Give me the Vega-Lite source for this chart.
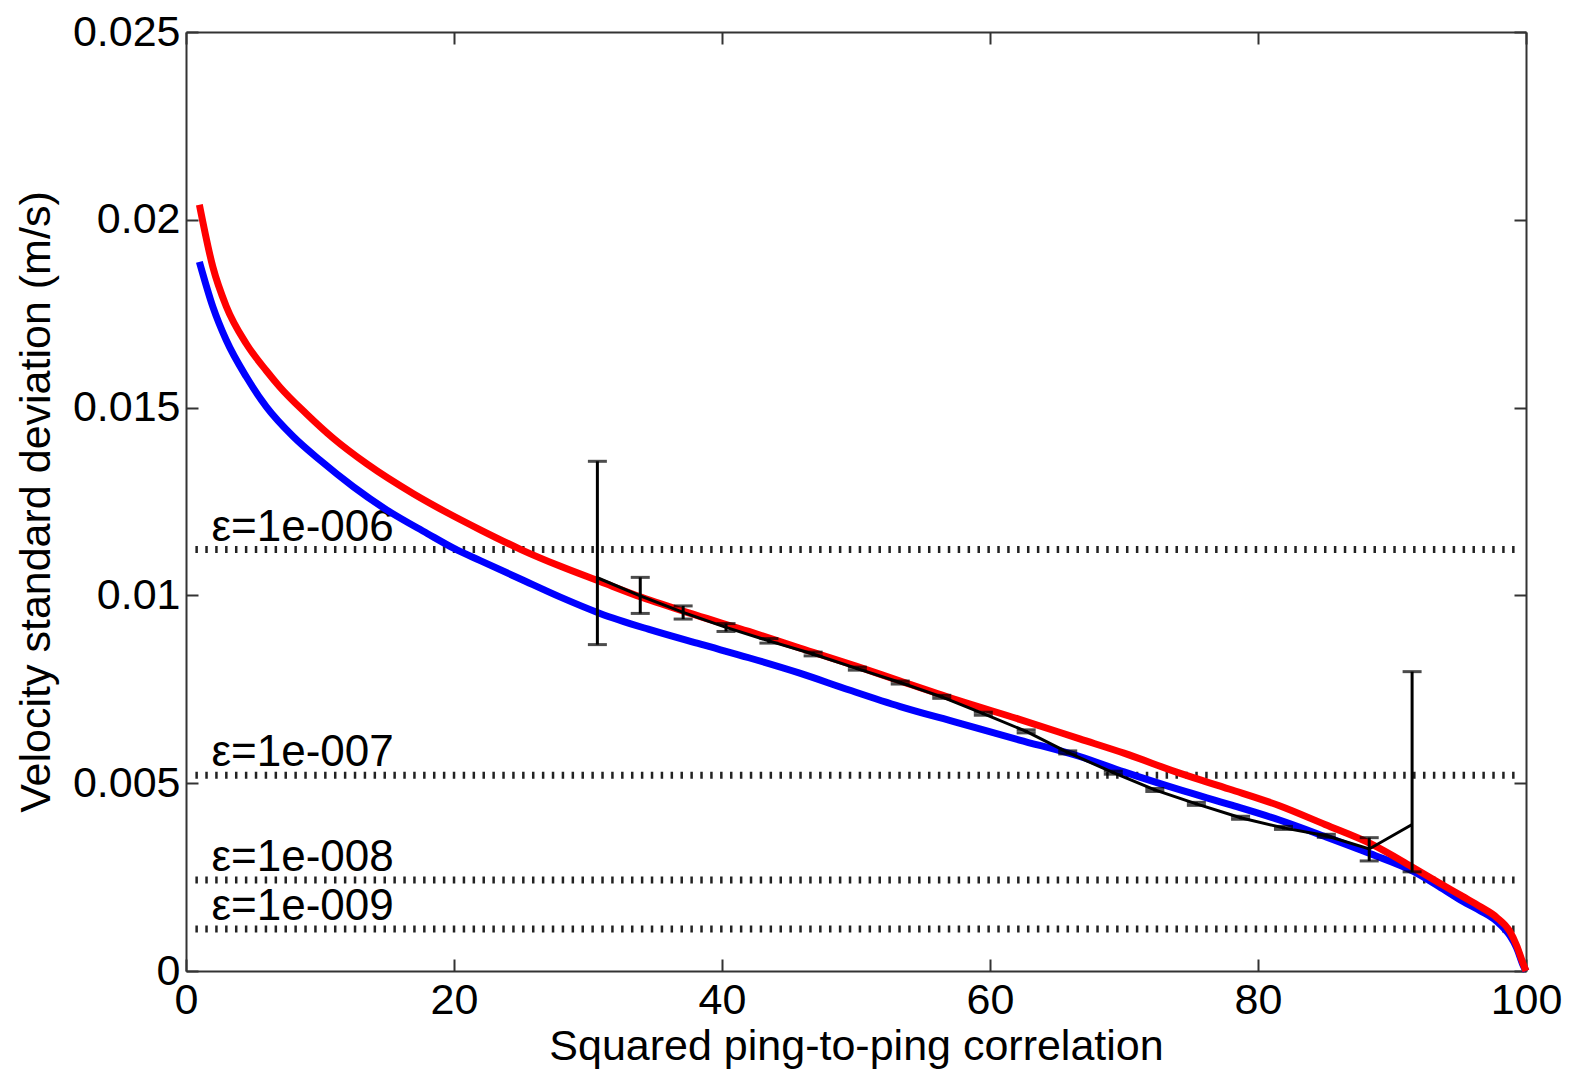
{
  "$schema": "https://vega.github.io/schema/vega-lite/v6.json",
  "autosize": "none",
  "width": 1340,
  "height": 939,
  "padding": {"left": 186, "top": 32, "right": 43, "bottom": 104},
  "background": "white",
  "config": {
    "view": {"stroke": null},
    "axis": {
      "domainColor": "#333", "domainWidth": 2,
      "tickColor": "#333", "tickWidth": 2, "tickSize": -12,
      "labelFont": "Liberation Sans", "labelFontSize": 43, "labelColor": "#000",
      "titleFont": "Liberation Sans", "titleFontSize": 43, "titleFontWeight": "normal", "titleColor": "#000",
      "grid": false, "labelFlush": false, "labelOverlap": false
    }
  },
  "datasets": {
    "curves": [
      {"series": "red", "x": 1.0, "y": 0.0204}, {"series": "red", "x": 2.0, "y": 0.01875}, {"series": "red", "x": 3.0, "y": 0.0177},
      {"series": "red", "x": 4.5, "y": 0.0167}, {"series": "red", "x": 6.0, "y": 0.01598}, {"series": "red", "x": 7.0, "y": 0.01555},
      {"series": "red", "x": 9.0, "y": 0.01483}, {"series": "red", "x": 11.0, "y": 0.01418}, {"series": "red", "x": 13.5, "y": 0.0135},
      {"series": "red", "x": 17.0, "y": 0.0127}, {"series": "red", "x": 19.5, "y": 0.0122}, {"series": "red", "x": 22.0, "y": 0.01174},
      {"series": "red", "x": 25.0, "y": 0.01122}, {"series": "red", "x": 27.9, "y": 0.01078}, {"series": "red", "x": 30.9, "y": 0.01037},
      {"series": "red", "x": 34.0, "y": 0.00995}, {"series": "red", "x": 38.0, "y": 0.00948}, {"series": "red", "x": 42.0, "y": 0.00904},
      {"series": "red", "x": 45.8, "y": 0.0086}, {"series": "red", "x": 50.0, "y": 0.00812}, {"series": "red", "x": 53.3, "y": 0.00772},
      {"series": "red", "x": 57.5, "y": 0.00722}, {"series": "red", "x": 62.2, "y": 0.0067}, {"series": "red", "x": 66.7, "y": 0.00618},
      {"series": "red", "x": 70.0, "y": 0.0058}, {"series": "red", "x": 74.2, "y": 0.00526}, {"series": "red", "x": 77.9, "y": 0.00484},
      {"series": "red", "x": 81.6, "y": 0.0044}, {"series": "red", "x": 85.0, "y": 0.0039}, {"series": "red", "x": 88.4, "y": 0.00339},
      {"series": "red", "x": 91.6, "y": 0.00275}, {"series": "red", "x": 93.5, "y": 0.00235}, {"series": "red", "x": 95.3, "y": 0.00198},
      {"series": "red", "x": 96.6, "y": 0.00171}, {"series": "red", "x": 97.8, "y": 0.00143}, {"series": "red", "x": 98.8, "y": 0.00105},
      {"series": "red", "x": 99.3, "y": 0.00068}, {"series": "red", "x": 99.8, "y": 0.00018}, {"series": "red", "x": 100.0, "y": 0.0},
      {"series": "blue", "x": 1.0, "y": 0.01888}, {"series": "blue", "x": 2.0, "y": 0.01769}, {"series": "blue", "x": 3.0, "y": 0.0168},
      {"series": "blue", "x": 4.5, "y": 0.01582}, {"series": "blue", "x": 6.0, "y": 0.01502}, {"series": "blue", "x": 8.0, "y": 0.01423},
      {"series": "blue", "x": 10.0, "y": 0.0136}, {"series": "blue", "x": 12.5, "y": 0.01289}, {"series": "blue", "x": 15.0, "y": 0.01227},
      {"series": "blue", "x": 18.0, "y": 0.01165}, {"series": "blue", "x": 20.0, "y": 0.01125}, {"series": "blue", "x": 22.0, "y": 0.01092},
      {"series": "blue", "x": 25.0, "y": 0.01043}, {"series": "blue", "x": 27.9, "y": 0.00996}, {"series": "blue", "x": 30.9, "y": 0.00952},
      {"series": "blue", "x": 34.5, "y": 0.0091}, {"series": "blue", "x": 38.4, "y": 0.0087}, {"series": "blue", "x": 42.0, "y": 0.00834},
      {"series": "blue", "x": 45.8, "y": 0.00793}, {"series": "blue", "x": 49.5, "y": 0.00748}, {"series": "blue", "x": 53.3, "y": 0.00704},
      {"series": "blue", "x": 57.5, "y": 0.00662}, {"series": "blue", "x": 62.2, "y": 0.00615}, {"series": "blue", "x": 66.7, "y": 0.00571},
      {"series": "blue", "x": 70.0, "y": 0.0053}, {"series": "blue", "x": 74.2, "y": 0.00482}, {"series": "blue", "x": 77.9, "y": 0.00443},
      {"series": "blue", "x": 81.6, "y": 0.00402}, {"series": "blue", "x": 85.0, "y": 0.00358}, {"series": "blue", "x": 88.4, "y": 0.00312},
      {"series": "blue", "x": 91.6, "y": 0.00265}, {"series": "blue", "x": 93.5, "y": 0.00225}, {"series": "blue", "x": 95.3, "y": 0.00185},
      {"series": "blue", "x": 96.6, "y": 0.0016}, {"series": "blue", "x": 97.8, "y": 0.00133}, {"series": "blue", "x": 98.8, "y": 0.00094},
      {"series": "blue", "x": 99.3, "y": 0.00062}, {"series": "blue", "x": 99.8, "y": 0.00014}, {"series": "blue", "x": 100.0, "y": 0.0}
    ],
    "black": [
      {"x": 30.7, "y": 0.01047, "lo": 0.00869, "hi": 0.01357},
      {"x": 33.9, "y": 0.00999, "lo": 0.00952, "hi": 0.01048},
      {"x": 37.1, "y": 0.00955, "lo": 0.00937, "hi": 0.00972},
      {"x": 40.3, "y": 0.00915, "lo": 0.00904, "hi": 0.00925},
      {"x": 43.5, "y": 0.00879, "lo": 0.00873, "hi": 0.00885},
      {"x": 46.8, "y": 0.00844, "lo": 0.00839, "hi": 0.00849},
      {"x": 50.1, "y": 0.00805, "lo": 0.00801, "hi": 0.00809},
      {"x": 53.3, "y": 0.00768, "lo": 0.00764, "hi": 0.00772},
      {"x": 56.4, "y": 0.0073, "lo": 0.00726, "hi": 0.00734},
      {"x": 59.5, "y": 0.00685, "lo": 0.00681, "hi": 0.00689},
      {"x": 62.7, "y": 0.00638, "lo": 0.00634, "hi": 0.00642},
      {"x": 65.8, "y": 0.00582, "lo": 0.00578, "hi": 0.00586},
      {"x": 69.2, "y": 0.00528, "lo": 0.00524, "hi": 0.00532},
      {"x": 72.3, "y": 0.00482, "lo": 0.00478, "hi": 0.00486},
      {"x": 75.4, "y": 0.00445, "lo": 0.00441, "hi": 0.00449},
      {"x": 78.7, "y": 0.00408, "lo": 0.00404, "hi": 0.00412},
      {"x": 81.9, "y": 0.00381, "lo": 0.00377, "hi": 0.00385},
      {"x": 85.1, "y": 0.0036, "lo": 0.00356, "hi": 0.00364},
      {"x": 88.3, "y": 0.00325, "lo": 0.00293, "hi": 0.00355},
      {"x": 91.5, "y": 0.0039, "lo": 0.00264, "hi": 0.00797}
    ],
    "eps": [
      {"label": "ε=1e-006", "v": 0.01122},
      {"label": "ε=1e-007", "v": 0.00521},
      {"label": "ε=1e-008", "v": 0.00242},
      {"label": "ε=1e-009", "v": 0.00112}
    ]
  },
  "resolve": {"axis": {"x": "independent", "y": "independent"}},
  "layer": [
    {
      "data": {"name": "eps"},
      "mark": {"type": "rule", "color": "#222", "strokeWidth": 7, "strokeDash": [2.5, 7.4]},
      "encoding": {
        "x": {"datum": 0.7, "type": "quantitative", "scale": {"domain": [0, 100], "nice": false}, "axis": {"orient": "bottom", "values": [0, 20, 40, 60, 80, 100], "title": "Squared ping-to-ping correlation", "labelPadding": 20, "titlePadding": 3}},
        "x2": {"datum": 99.4},
        "y": {"field": "v", "type": "quantitative", "scale": {"domain": [0, 0.025], "nice": false}, "axis": {"orient": "left", "values": [0, 0.005, 0.01, 0.015, 0.02, 0.025], "format": "~g", "title": "Velocity standard deviation (m/s)", "labelPadding": 18, "titlePadding": 14}}
      }
    },
    {
      "data": {"name": "eps"},
      "mark": {"type": "text", "align": "left", "baseline": "alphabetic", "dy": -9, "font": "Liberation Sans", "fontSize": 44, "color": "#000"},
      "encoding": {
        "x": {"datum": 1.9, "type": "quantitative", "axis": {"orient": "top", "values": [0, 20, 40, 60, 80, 100], "labels": false, "title": null}},
        "y": {"field": "v", "type": "quantitative", "axis": {"orient": "right", "values": [0, 0.005, 0.01, 0.015, 0.02, 0.025], "labels": false, "title": null}},
        "text": {"field": "label"}
      }
    },
    {
      "data": {"name": "curves"},
      "transform": [{"filter": "datum.series === 'blue'"}],
      "mark": {"type": "line", "color": "#0000ff", "strokeWidth": 7, "interpolate": "monotone"},
      "encoding": {
        "x": {"field": "x", "type": "quantitative", "axis": null},
        "y": {"field": "y", "type": "quantitative", "axis": null}
      }
    },
    {
      "data": {"name": "curves"},
      "transform": [{"filter": "datum.series === 'red'"}],
      "mark": {"type": "line", "color": "#ff0000", "strokeWidth": 7, "interpolate": "monotone"},
      "encoding": {
        "x": {"field": "x", "type": "quantitative", "axis": null},
        "y": {"field": "y", "type": "quantitative", "axis": null}
      }
    },
    {
      "data": {"name": "black"},
      "mark": {"type": "line", "color": "#000", "strokeWidth": 3},
      "encoding": {
        "x": {"field": "x", "type": "quantitative", "axis": null},
        "y": {"field": "y", "type": "quantitative", "axis": null}
      }
    },
    {
      "data": {"name": "black"},
      "mark": {"type": "errorbar", "color": "#000", "thickness": 3, "ticks": {"size": 19, "thickness": 3, "color": "#000"}},
      "encoding": {
        "x": {"field": "x", "type": "quantitative", "axis": null},
        "y": {"field": "lo", "type": "quantitative", "axis": null},
        "y2": {"field": "hi"}
      }
    }
  ]
}
